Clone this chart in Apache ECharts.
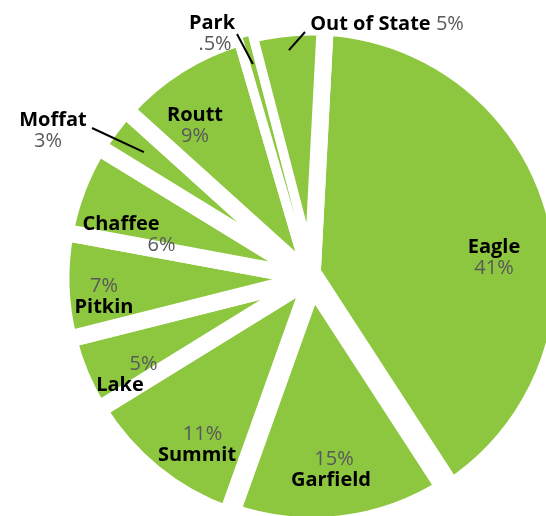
<!DOCTYPE html>
<html>
<head>
<meta charset="utf-8">
<script src="https://cdn.jsdelivr.net/npm/echarts@6/dist/echarts.min.js"></script>
<style>
  html, body { margin: 0; padding: 0; background: #fff; }
  .box { width: 546px; height: 516px; }
</style>
</head>
<body>
<div class="box"></div>
<script>
// data
var counties = ["Eagle", "Garfield", "Summit", "Lake", "Pitkin", "Chaffee", "Moffat", "Routt", "Park", "Out of State"];
var shares = [41, 15, 11, 5, 7, 6, 3, 9, 0.5, 5];
var shareText = ["41%", "15%", "11%", "5%", "7%", "6%", "3%", "9%", ".5%", "5%"];

(function () {
  var myChart = echarts.init(document.querySelector(".box"));

  var GREEN = "#8dc63f";
  var CX = 312, CY = 278, R = 251;
  var START = 87; // echarts startAngle, 90 = twelve o'clock

  // label placement (centre of text block), percent line on top or not,
  // extra padding to push the percent sideways
  var labelAt = [[494, 258], [331, 470], [197, 445], [120, 375], [104, 297],
                 [121, 235], [53, 131], [195, 126], [212, 34], [387, 24]];
  var pctFirst = [false, true, true, true, true, false, false, false, false, false];
  var pctShift = [0, 6, 11, 47, 0, 81, -10, 0, 6, 0];
  // leader lines for the small outside labels
  var leaderEnd = { 6: [92, 128], 8: [237, 34], 9: [305, 32] };
  var leaderStartR = { 6: 210, 8: 222, 9: 229 };

  var total = shares.reduce(function (a, b) { return a + b; }, 0);
  function midAngle(i) {
    var before = 0;
    for (var k = 0; k < i; k++) before += shares[k];
    var deg = (90 - START) + (before + shares[i] / 2) / total * 360;
    return deg * Math.PI / 180;
  }

  function styleKey(i) {
    return pctShift[i] === 0 ? "p" : "p" + i;
  }

  function fmt(i) {
    if (i === 9) return "{n|" + counties[i] + " }{p|" + shareText[i] + "}";
    var nm = "{n|" + counties[i] + "}";
    var pc = "{" + styleKey(i) + "|" + shareText[i] + "}";
    return pctFirst[i] ? pc + "\n" + nm : nm + "\n" + pc;
  }

  var rich = {
    n: { fontFamily: "Open Sans", fontWeight: "bold", fontSize: 20, color: "#000", lineHeight: 21, align: "center" },
    p: { fontFamily: "Open Sans", fontSize: 20, color: "#58595b", lineHeight: 21, align: "center" }
  };
  pctShift.forEach(function (s, i) {
    if (s === 0) return;
    rich["p" + i] = {
      fontFamily: "Open Sans", fontSize: 20, color: "#58595b", lineHeight: 21, align: "center",
      padding: s > 0 ? [0, 0, 0, s] : [0, -s, 0, 0]
    };
  });

  // base slices, white borders make the gaps (Garfield's are a bit wider)
  var baseData = counties.map(function (name, i) {
    var item = { name: name, value: shares[i] };
    if (i === 1) item.itemStyle = { borderWidth: 24 };
    return item;
  });

  // second layer: only Park is painted (too thin to survive the border)
  var parkData = counties.map(function (name, i) {
    return {
      name: name,
      value: shares[i],
      itemStyle: i === 8
        ? { color: GREEN, borderColor: "#fff", borderWidth: 2 }
        : { color: "transparent", borderWidth: 0 }
    };
  });

  // top layer: invisible slices that carry the labels and leader lines
  var labelData = counties.map(function (name, i) {
    var item = {
      name: name,
      value: shares[i],
      itemStyle: { color: "transparent", borderWidth: 0 },
      label: { formatter: fmt(i) }
    };
    if (leaderEnd[i]) {
      item.label.position = "outside";
      item.labelLine = { show: true, length: 10, length2: 0, lineStyle: { color: "#000", width: 2 } };
    }
    return item;
  });

  var common = {
    type: "pie",
    center: [CX, CY],
    radius: [0, R],
    startAngle: START,
    clockwise: true,
    silent: true,
    avoidLabelOverlap: false
  };

  var option = {
    backgroundColor: "#fff",
    animation: false,
    series: [
      Object.assign({}, common, {
        z: 2,
        itemStyle: { color: GREEN, borderColor: "#fff", borderWidth: 17 },
        label: { show: false },
        labelLine: { show: false },
        data: baseData
      }),
      Object.assign({}, common, {
        z: 3,
        label: { show: false },
        labelLine: { show: false },
        data: parkData
      }),
      Object.assign({}, common, {
        z: 4,
        label: { show: true, position: "inside", rich: rich },
        labelLine: { show: false },
        labelLayout: function (params) {
          var i = params.dataIndex;
          var out = { x: labelAt[i][0], y: labelAt[i][1], align: "center", verticalAlign: "middle" };
          if (leaderEnd[i]) {
            var a = midAngle(i), r = leaderStartR[i];
            var p0 = [CX + r * Math.sin(a), CY - r * Math.cos(a)];
            out.labelLinePoints = [p0, leaderEnd[i], leaderEnd[i]];
          }
          return out;
        },
        data: labelData
      })
    ]
  };
  myChart.setOption(option);

  window.addEventListener("resize", function () {
    myChart.resize();
  });
})();
</script>
</body>
</html>
